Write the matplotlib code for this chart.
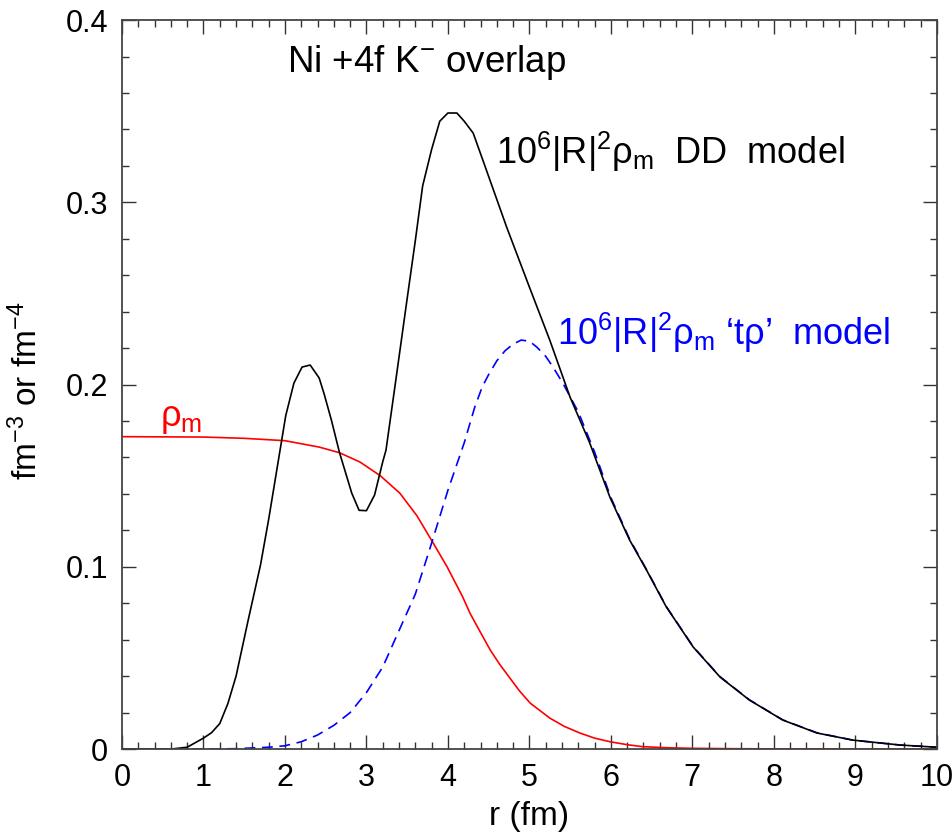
import numpy as np
import matplotlib
matplotlib.use("Agg")
import matplotlib.pyplot as plt
from matplotlib.ticker import MultipleLocator

plt.rcParams.update({
    "font.family": ["Liberation Sans", "DejaVu Sans"],
    "mathtext.fontset": "custom",
    "mathtext.rm": "Liberation Sans",
    "mathtext.it": "Liberation Sans",
    "mathtext.bf": "Liberation Sans:bold",
})

# --- data ---
# nuclear density rho_m (fm^-3)
r_rho = [0.0, 0.5, 1.0, 1.5, 2.0, 2.18, 2.42, 2.67, 2.92, 3.17, 3.41, 3.62,
         3.82, 3.99, 4.18, 4.27, 4.4, 4.52, 4.64, 4.76, 4.88, 5.01, 5.25,
         5.43, 5.62, 5.8, 5.99, 6.2, 6.39, 6.7, 7.0, 7.5, 8.0, 10.0]
rho_m = [0.1714, 0.1713, 0.1712, 0.1705, 0.1692, 0.1677, 0.1657, 0.1626,
         0.1575, 0.1500, 0.1404, 0.1280, 0.1130, 0.1000, 0.0836, 0.0746,
         0.0640, 0.0543, 0.0462, 0.0390, 0.0318, 0.0252, 0.0170, 0.0124,
         0.0088, 0.0060, 0.0040, 0.0024, 0.0013, 0.0007, 0.0004, 0.0002,
         0.0001, 0.0]

# 10^6 |R|^2 rho_m, DD model
r_dd = [0.0, 0.6, 0.8, 1.0, 1.1, 1.2, 1.3, 1.4, 1.55, 1.7, 1.8, 1.94, 2.01,
        2.11, 2.21, 2.31, 2.42, 2.48, 2.57, 2.67, 2.82, 2.91, 3.0, 3.1, 3.2,
        3.24, 3.35, 3.49, 3.6, 3.69, 3.8, 3.9, 4.0, 4.11, 4.2, 4.31, 4.43,
        4.72, 5.0, 5.25, 5.5, 5.74, 5.99, 6.23, 6.44, 6.68, 7.01, 7.34,
        7.7, 8.11, 8.53, 8.97, 9.55, 10.0]
dd = [0.0, 0.0, 0.001, 0.006, 0.009, 0.014, 0.025, 0.040, 0.071, 0.101,
      0.126, 0.164, 0.183, 0.2008, 0.2096, 0.2107, 0.2036, 0.195, 0.1805,
      0.1626, 0.1404, 0.131, 0.1308, 0.1394, 0.1576, 0.164, 0.199, 0.244,
      0.279, 0.309, 0.329, 0.3445, 0.349, 0.349, 0.3445, 0.338, 0.323,
      0.2865, 0.2535, 0.2244, 0.193, 0.168, 0.138, 0.1147, 0.098, 0.078,
      0.056, 0.0395, 0.0269, 0.0159, 0.0088, 0.0049, 0.0022, 0.001]

# 10^6 |R|^2 rho_m, 't rho' model
r_trho = [0.0, 1.0, 1.4, 1.6, 1.8, 2.0, 2.2, 2.4, 2.6, 2.8, 3.0, 3.2, 3.4,
          3.6, 3.8, 4.0, 4.2, 4.33, 4.42, 4.5, 4.6, 4.7, 4.8, 4.9, 5.0, 5.09,
          5.2, 5.29, 5.41, 5.6, 5.8, 6.0, 6.23, 6.44, 6.68, 7.01, 7.34, 7.7,
          8.11, 8.53, 8.97, 9.55, 10.0]
trho = [0.0, 0.0, 0.0002, 0.0006, 0.001, 0.0018, 0.004, 0.0077, 0.013, 0.020,
        0.031, 0.045, 0.065, 0.085, 0.113, 0.142, 0.168, 0.1877, 0.1986,
        0.2055, 0.2130, 0.2185, 0.2222, 0.2244, 0.2238, 0.2206, 0.2155,
        0.2096, 0.2008, 0.1850, 0.1630, 0.1380, 0.1152, 0.0983, 0.0782,
        0.0562, 0.0397, 0.0270, 0.0160, 0.0089, 0.0049, 0.0022, 0.001]

fig = plt.figure(figsize=(9.53, 8.36), dpi=100)
ax = fig.add_axes([0.128, 0.104, 0.855, 0.872])

ax.plot(r_rho, rho_m, color="#ff0000", lw=1.2)
ax.plot(r_trho, trho, color="#0000ff", lw=1.2, dashes=(6.5, 4))
ax.plot(r_dd, dd, color="black", lw=1.2)

ax.set_xlim(0, 10)
ax.set_ylim(0, 0.4)
ax.xaxis.set_major_locator(MultipleLocator(1))
ax.xaxis.set_minor_locator(MultipleLocator(0.2))
ax.yaxis.set_minor_locator(MultipleLocator(0.02))
ax.set_yticks([0, 0.1, 0.2, 0.3, 0.4])
ax.set_yticklabels(["0", "0.1", "0.2", "0.3", "0.4"])
ax.tick_params(which="both", direction="in", top=True, right=True,
               labelsize=22, width=1.0, color="#333333")
ax.tick_params(which="major", length=10, pad=10)
ax.tick_params(which="minor", length=5)
for s in ax.spines.values():
    s.set_color("#444444")
    s.set_linewidth(1.3)

ax.set_xlabel("r (fm)", fontsize=24, labelpad=6)
ax.set_ylabel(r"fm$^{-3}$ or fm$^{-4}$", fontsize=24)
ax.yaxis.set_label_coords(-0.095, 0.492)


def place(x_px, y_px, s, **kw):
    # position a text by figure pixels from the top-left corner
    fig.text(x_px / 953, 1 - y_px / 836, s, **kw)


place(287, 63, r"Ni +4f K$^{-}$ overlap", fontsize=26.5, va="center")
place(496, 152, r"$10^6|R|^2\rho_m$  DD  model", fontsize=26, va="center")
place(557, 333, r"$10^6|R|^2\rho_m$ ‘t$\rho$’  model", fontsize=26,
      va="center", color="#0000ff")
place(160, 418, r"$\rho_m$", fontsize=26, va="center", color="#ff0000")

fig.savefig("out.png", dpi=100)
